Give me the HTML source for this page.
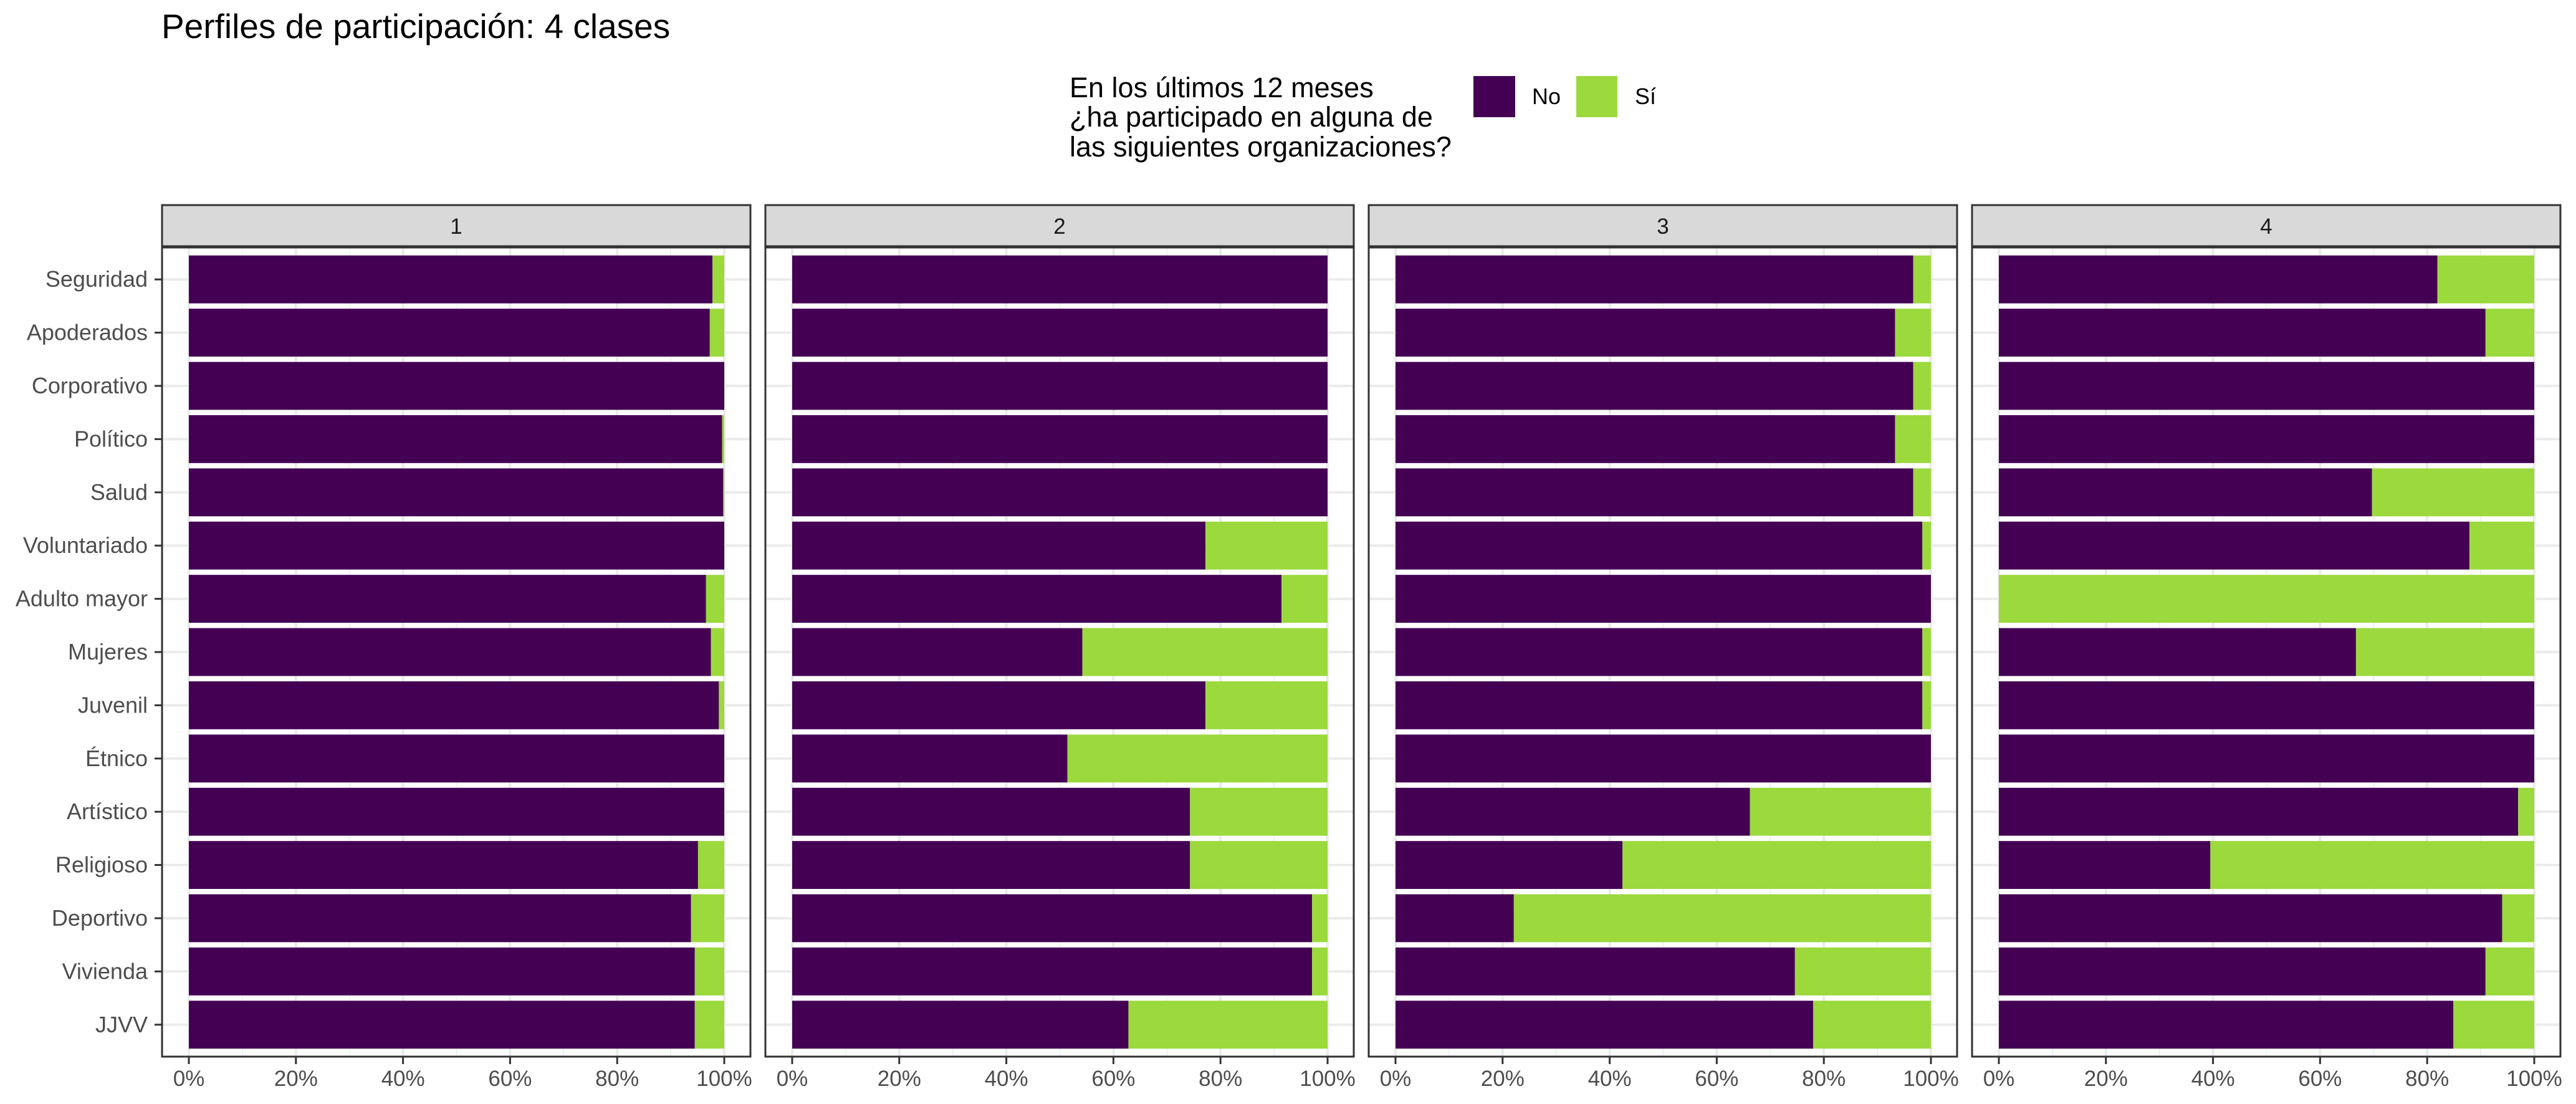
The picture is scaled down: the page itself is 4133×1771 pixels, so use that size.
<!DOCTYPE html>
<html><head><meta charset="utf-8"><style>
html,body{margin:0;padding:0;background:#fff}
svg{display:block;font-family:"Liberation Sans",Arial,sans-serif}
</style></head><body>
<svg id="chart" width="4133" height="1771" viewBox="0 0 4133 1771" xmlns="http://www.w3.org/2000/svg">
<text x="259" y="61" font-size="55" fill="#000">Perfiles de participación: 4 clases</text>
<g>
<text font-size="45" fill="#000"><tspan x="1716" y="156">En los últimos 12 meses</tspan><tspan x="1716" y="203">¿ha participado en alguna de</tspan><tspan x="1716" y="251">las siguientes organizaciones?</tspan></text>
<rect x="2364" y="122" width="67" height="66" fill="#440154"/>
<text x="2458" y="167" font-size="36" fill="#000">No</text>
<rect x="2529" y="122" width="66" height="66" fill="#9bd93c"/>
<text x="2623" y="167" font-size="36" fill="#000">Sí</text>
</g>
<g id="panels"></g>
</svg>
<script>
const categories = ["Seguridad","Apoderados","Corporativo","Político","Salud","Voluntariado","Adulto mayor","Mujeres","Juvenil","Étnico","Artístico","Religioso","Deportivo","Vivienda","JJVV"];
const classes = ["1","2","3","4"];
const noClass1 = [0.978,0.973,1.0,0.996,0.998,1.0,0.966,0.975,0.99,1.0,1.0,0.951,0.938,0.945,0.945];
const noClass2 = [1.0,1.0,1.0,1.0,1.0,0.772,0.914,0.542,0.772,0.514,0.743,0.743,0.971,0.971,0.628];
const noClass3 = [0.967,0.933,0.967,0.933,0.967,0.984,1.0,0.984,0.984,1.0,0.662,0.424,0.221,0.746,0.780];
const noClass4 = [0.819,0.909,1.0,1.0,0.697,0.879,0.0,0.667,1.0,1.0,0.970,0.395,0.940,0.909,0.849];
const xTicks = [0,0.2,0.4,0.6,0.8,1.0];
const xTickLabels = ["0%","20%","40%","60%","80%","100%"];
const series = [noClass1,noClass2,noClass3,noClass4];

const NS="http://www.w3.org/2000/svg";
const g=document.getElementById('panels');
const panelLefts=[260,1228,2196,3164], PW=944, PT=397, PB=1695, ST=329;
const n=categories.length, unit=(PB-PT)/(n-1+1.2);
function mk(tag,attrs,parent){const e=document.createElementNS(NS,tag);for(const k in attrs)e.setAttribute(k,attrs[k]);parent.appendChild(e);return e;}
function yScale(i){return PT+(0.6+i)*unit;}
series.forEach((vals,p)=>{
  const L=panelLefts[p];
  const xScale=v=>L+43+v*859;
  const pg=mk('g',{},g);
  
  
  mk('rect',{x:L,y:PT,width:PW,height:PB-PT,fill:'#fff'},pg);
  for(let k=0;k<5;k++){const x=xScale(0.1+0.2*k);mk('line',{x1:x,x2:x,y1:PT,y2:PB,stroke:'#f0f0f0','stroke-width':2},pg);}
  xTicks.forEach(t=>{const x=xScale(t);mk('line',{x1:x,x2:x,y1:PT,y2:PB,stroke:'#ebebeb','stroke-width':4},pg);});
  categories.forEach((c,i)=>{const y=yScale(i);mk('line',{x1:L,x2:L+PW,y1:y,y2:y,stroke:'#ebebeb','stroke-width':4},pg);});
  categories.forEach((c,i)=>{
    const yc=yScale(i), h=unit*0.9, y0=yc-h/2, v=vals[i];
    const b1=mk('rect',{x:xScale(0),y:y0,width:Math.max(0,xScale(v)-xScale(0)),height:h,fill:'#440154'},pg);
    
    
    const b2=mk('rect',{x:xScale(v),y:y0,width:Math.max(0,xScale(1)-xScale(v)),height:h,fill:'#9bd93c'},pg);
    
    
  });
  mk('rect',{x:L,y:PT,width:PW,height:PB-PT,fill:'none',stroke:'#333','stroke-width':3},pg);
  const strip=mk('rect',{x:L,y:ST,width:PW,height:PT-ST-2,fill:'#d9d9d9',stroke:'#333','stroke-width':3},pg);
  
  
  const st=mk('text',{x:L+PW/2,y:(ST+PT)/2+12,'font-size':35,'text-anchor':'middle',fill:'#1a1a1a'},pg);
  st.textContent=classes[p];
  
  
  xTicks.forEach((t,k)=>{
    const x=xScale(t);
    mk('line',{x1:x,x2:x,y1:PB,y2:PB+12,stroke:'#333','stroke-width':3},pg);
    const tl=mk('text',{x:x,y:PB+47,'font-size':35,'text-anchor':'middle',fill:'#4d4d4d'},pg);
    tl.textContent=xTickLabels[k];
    
    
  });
  if(p===0){
    categories.forEach((c,i)=>{
      const y=yScale(i);
      mk('line',{x1:L-12,x2:L,y1:y,y2:y,stroke:'#333','stroke-width':3},pg);
      const yl=mk('text',{x:L-23,y:y+12,'font-size':36,'text-anchor':'end',fill:'#4d4d4d'},pg);
      yl.textContent=c;
      
      
    });
  }
});
</script>
</body></html>
